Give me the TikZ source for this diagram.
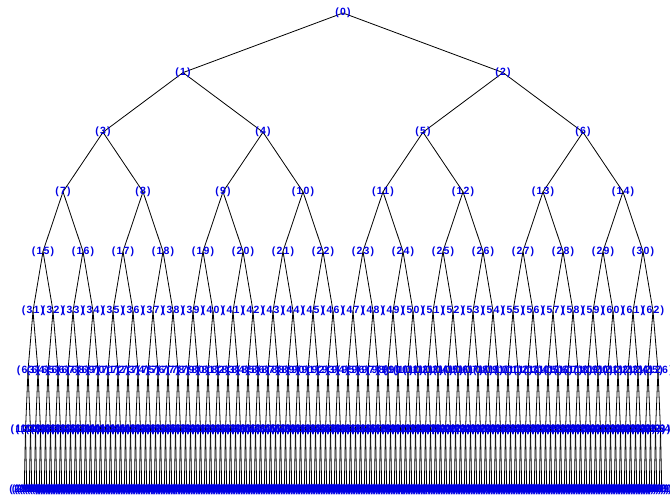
\documentclass[tikz,border=0pt]{standalone}
\usepackage{fontspec}
\setmainfont{Liberation Sans}
\newfontfamily\labfont[LetterSpace=12]{Liberation Sans}
\begin{document}
\begin{tikzpicture}[x=1pt,y=-1pt,
  edge/.style={draw=black,line width=0.8pt},
  lab/.style={text=blue!90!black,font=\labfont\bfseries\fontsize{10.5}{12}\selectfont,inner sep=0pt}]
\useasboundingbox (0,0) rectangle (670,501);
\foreach \d in {0,...,8}{
  \pgfmathtruncatemacro\nn{2^\d}
  \pgfmathtruncatemacro\last{\nn-1}
  \pgfmathsetmacro\span{256/\nn}
  \foreach \j in {0,...,\last}{
    \pgfmathtruncatemacro\k{\nn-1+\j}
    \pgfmathsetmacro\xx{24.25+2.5*((\j+0.5)*\span-0.5)}
    \pgfmathsetmacro\yy{13+\d*59.6}
    \coordinate (c\k) at (\xx,\yy);
  }
}
\foreach \k in {1,...,510}{
  \pgfmathtruncatemacro\p{(\k-1)/2}
  \draw[edge] (c\p) -- (c\k);
}
\foreach \k in {0,...,510}{
  \node[lab] (n\k) at (c\k) {(\k)};
}
\end{tikzpicture}
\end{document}
